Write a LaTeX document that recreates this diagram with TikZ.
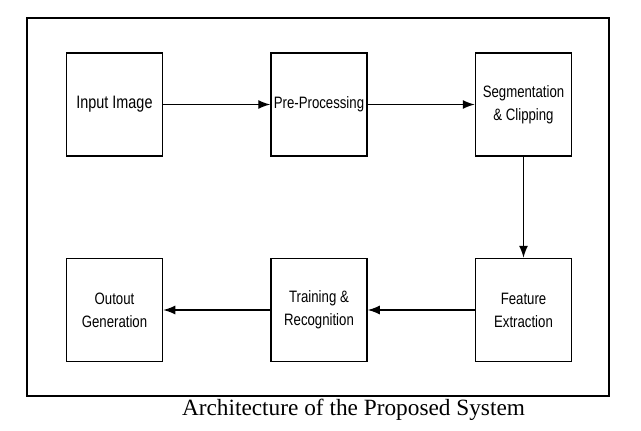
\documentclass[tikz,border=0pt]{standalone}
\usepackage{fontspec}
\usetikzlibrary{arrows.meta}
\newfontfamily\narrowsans{Liberation Sans}[FakeStretch=0.8]
\newfontfamily\capserif{Liberation Serif}
\begin{document}
\begin{tikzpicture}[x=1pt,y=-1pt,
  stage/.style={draw,line width=1.5pt,minimum width=96pt,minimum height=103pt,inner sep=0pt,
    align=center,font=\narrowsans\fontsize{16.5}{23}\selectfont},
  flow/.style={line width=1.3pt,-{Latex[length=12pt,width=9pt]}}]
\useasboundingbox (0,0) rectangle (641,431);
\node[draw,line width=1.3pt,minimum width=582pt,minimum height=378pt,inner sep=0pt] (frame) at (318,207) {};
\node[stage,font=\narrowsans\fontsize{18}{23}\selectfont] (inp) at (114.5,104.5) {Input Image};
\node[stage] (pre) at (319,104.5) {Pre-Processing};
\node[stage] (seg) at (523.5,104.5) {Segmentation\\\& Clipping};
\node[stage] (fea) at (523.5,310) {Feature\\Extraction};
\node[stage] (tra) at (319,310) {Training \&\\Recognition};
\node[stage] (out) at (114.5,310) {Outout\\Generation};
\draw[flow] (inp) -- (pre);
\draw[flow] (pre) -- (seg);
\draw[flow] (seg) -- (fea);
\draw[flow] (fea) -- (tra);
\draw[flow] (tra) -- (out);
\node[font=\capserif\fontsize{23.3}{26}\selectfont,inner sep=0pt] (cap) at (353.5,410) {Architecture of the Proposed System};
\end{tikzpicture}
\end{document}
